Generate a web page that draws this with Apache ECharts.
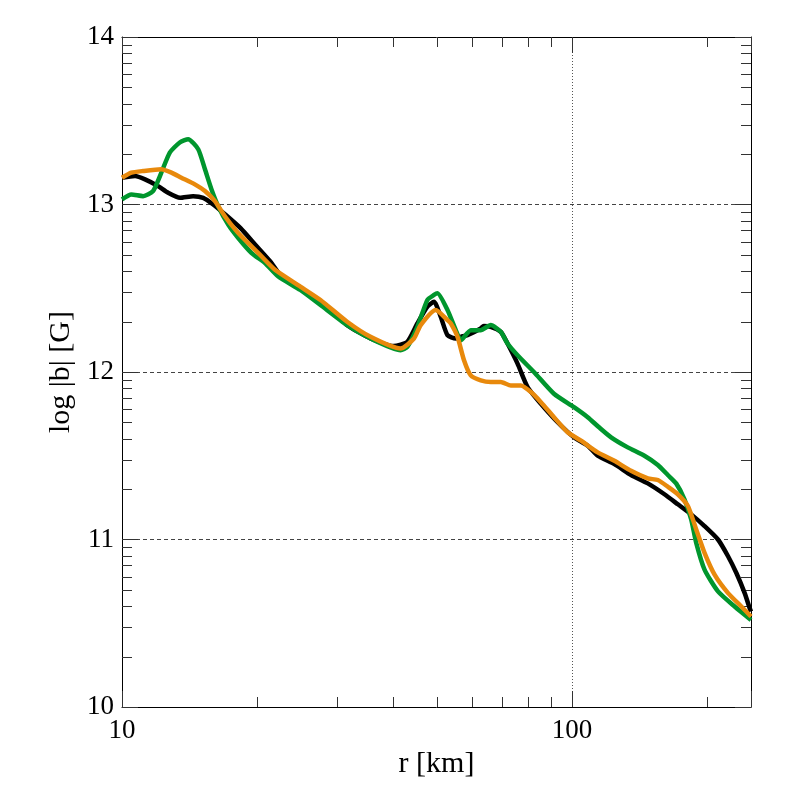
<!DOCTYPE html>
<html>
<head>
<meta charset="utf-8">
<script src="https://cdn.jsdelivr.net/npm/echarts@6/dist/echarts.min.js"></script>
<style>html,body{margin:0;padding:0;background:#fff;}#chart{width:786px;height:786px;}</style>
</head>
<body>
<div id="chart"></div>
<script>
// ---- data ----
const blackR = [10.00,10.69,11.25,12.03,12.66,13.46,14.39,15.15,15.95,16.96,18.32,19.78,21.36,22.48,24.91,27.61,31.65,35.67,40.14,43.06,45.34,47.72,49.36,51.09,52.89,55.18,56.62,58.58,62.70,63.68,66.00,69.48,71.91,75.70,79.69,85.31,92.94,101.04,108.40,114.08,124.24,135.33,147.44,160.55,171.95,184.08,197.09,211.13,222.28,231.96,242.05,248.33,250];
const blackV = [13.16,13.17,13.15,13.11,13.07,13.04,13.05,13.04,13.00,12.94,12.86,12.76,12.66,12.58,12.50,12.42,12.28,12.20,12.155,12.18,12.29,12.39,12.42,12.33,12.22,12.20,12.21,12.22,12.26,12.275,12.27,12.24,12.17,12.05,11.91,11.81,11.70,11.61,11.56,11.50,11.45,11.385,11.335,11.27,11.21,11.15,11.08,11.00,10.90,10.80,10.68,10.59,10.57];

const greenR = [10.00,10.49,11.14,11.72,12.23,12.77,13.44,14.03,14.77,15.29,15.81,16.36,17.22,18.13,19.41,20.79,22.25,24.91,27.61,31.65,35.67,41.61,43.06,45.34,47.72,49.36,50.22,52.89,55.18,56.62,59.58,62.70,66.00,69.48,71.91,75.70,82.32,91.20,101.04,108.40,114.85,122.16,133.05,144.88,155.20,163.34,170.45,177.87,184.08,188.88,197.09,211.13,229.93,250];
const greenV = [13.03,13.06,13.05,13.08,13.19,13.31,13.37,13.39,13.33,13.21,13.09,12.99,12.88,12.80,12.71,12.65,12.57,12.49,12.40,12.28,12.20,12.13,12.15,12.27,12.43,12.46,12.47,12.37,12.25,12.19,12.25,12.25,12.28,12.24,12.17,12.10,12.00,11.87,11.79,11.73,11.67,11.61,11.55,11.50,11.445,11.385,11.335,11.24,11.12,10.98,10.82,10.69,10.60,10.52];

const orangeR = [10.00,10.49,11.14,12.23,12.88,13.55,14.52,15.29,16.09,16.93,18.13,20.09,21.88,24.91,27.61,31.65,35.67,41.61,44.56,46.11,49.79,52.89,53.79,55.67,57.56,59.58,62.70,66.00,69.48,73.13,77.00,81.07,85.31,91.20,97.83,104.72,114.08,124.24,135.33,147.44,155.20,163.34,171.95,181.00,188.88,197.09,207.49,222.28,237.96,250];
const orangeV = [13.16,13.19,13.20,13.21,13.19,13.16,13.12,13.08,13.02,12.93,12.83,12.71,12.61,12.51,12.43,12.30,12.21,12.14,12.20,12.28,12.37,12.31,12.29,12.21,12.07,11.98,11.95,11.94,11.94,11.92,11.92,11.88,11.82,11.73,11.64,11.59,11.52,11.47,11.41,11.365,11.355,11.315,11.27,11.20,11.06,10.92,10.79,10.68,10.60,10.54];

// axis ranges and tick values
const xMin = 10, xMax = 250;
const yMin = 10, yMax = 14, yStep = 1;
const xMinorTicks = [20,30,40,50,60,70,80,90,200];
const yMinorMultipliers = [2,3,4,5,6,7,8,9];
const yDecades = [10,11,12,13];

function pairs(xs, ys){ return xs.map((x,i)=>[x, ys[i]]); }

const minorData = [];
yDecades.forEach(d => yMinorMultipliers.forEach(k => minorData.push([xMin, d + Math.log10(k), 0])));
xMinorTicks.forEach(t => minorData.push([t, yMin, 1]));

const FONT = 'Liberation Serif';
const L = 10;

const chart = echarts.init(document.getElementById('chart'), null, {renderer:'canvas'});
const axisCommonX = {
  type:'log', logBase:10, min:xMin, max:xMax,
  axisLine:{show:true, lineStyle:{color:'#000', width:1}},
  axisTick:{show:true, inside:true, length:16, lineStyle:{color:'#333'}},
  minorTick:{show:false}
};
const axisCommonY = {
  type:'value', min:yMin, max:yMax, interval:yStep,
  axisLine:{show:true, lineStyle:{color:'#000', width:1}},
  axisTick:{show:true, inside:true, length:16, lineStyle:{color:'#333'}}
};

chart.setOption({
  animation:false,
  backgroundColor:'#fff',
  grid:{left:122, right:35, top:37, bottom:79, containLabel:false},
  xAxis:[
    Object.assign({}, axisCommonX, {
      position:'bottom',
      name:'r [km]', nameLocation:'middle', nameGap:33,
      nameTextStyle:{fontFamily:FONT, fontSize:30, color:'#000'},
      axisLabel:{show:true, margin:10, fontFamily:FONT, fontSize:27, color:'#000',
        formatter:function(v){ const l = Math.log10(v); return Math.abs(l-Math.round(l))<1e-6 ? String(Math.round(v)) : ''; }},
      splitLine:{show:true, lineStyle:{color:'#555', width:1, type:[1,2]}}
    }),
    Object.assign({}, axisCommonX, {
      position:'top', axisLabel:{show:false}, splitLine:{show:false}
    })
  ],
  yAxis:[
    Object.assign({}, axisCommonY, {
      position:'left',
      name:'log |b| [G]', nameLocation:'middle', nameGap:40, nameRotate:90,
      nameTextStyle:{fontFamily:FONT, fontSize:30, color:'#000'},
      axisLabel:{show:true, margin:8, fontFamily:FONT, fontSize:27, color:'#000'},
      splitLine:{show:true, lineStyle:{color:'#444', width:1, type:[4,3]}}
    }),
    Object.assign({}, axisCommonY, {
      position:'right', axisLabel:{show:false}, splitLine:{show:false}
    })
  ],
  series:[
    {
      type:'custom', xAxisIndex:0, yAxisIndex:0, silent:true, clip:false, z:1,
      data:minorData,
      renderItem:function(params, api){
        const cs = params.coordSys;
        const kind = api.value(2);
        const p = api.coord([api.value(0), api.value(1)]);
        const st = {stroke:'#333', lineWidth:1};
        if (kind === 0) {
          const y = Math.round(p[1]) + 0.5;
          return {type:'group', children:[
            {type:'line', shape:{x1:cs.x, y1:y, x2:cs.x+L, y2:y}, style:st},
            {type:'line', shape:{x1:cs.x+cs.width-L, y1:y, x2:cs.x+cs.width, y2:y}, style:st}
          ]};
        } else {
          const x = Math.round(p[0]) + 0.5;
          return {type:'group', children:[
            {type:'line', shape:{x1:x, y1:cs.y+cs.height, x2:x, y2:cs.y+cs.height-L}, style:st},
            {type:'line', shape:{x1:x, y1:cs.y, x2:x, y2:cs.y+L}, style:st}
          ]};
        }
      }
    },
    {type:'line', name:'black', data:pairs(blackR, blackV), showSymbol:false, smooth:0.2, z:3,
      lineStyle:{color:'#000000', width:4.5}},
    {type:'line', name:'green', data:pairs(greenR, greenV), showSymbol:false, smooth:0.2, z:4,
      lineStyle:{color:'#00962d', width:4.5}},
    {type:'line', name:'orange', data:pairs(orangeR, orangeV), showSymbol:false, smooth:0.2, z:5,
      lineStyle:{color:'#e8890c', width:4.5}}
  ]
});
</script>
</body>
</html>
